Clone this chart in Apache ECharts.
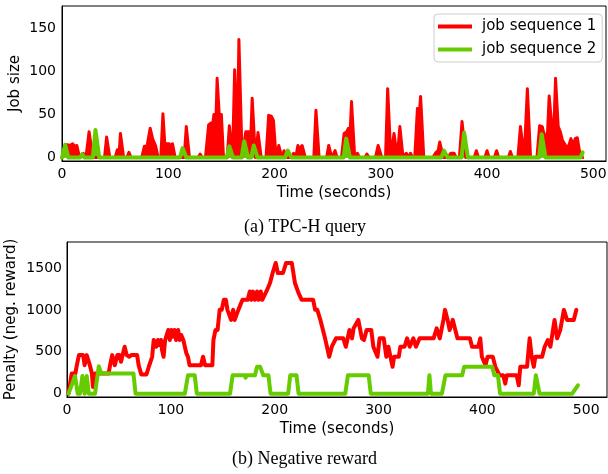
<!DOCTYPE html>
<html lang="en">
<head>
<meta charset="utf-8">
<script src="https://cdn.jsdelivr.net/npm/echarts@6/dist/echarts.min.js"></script>
<style>
  html, body { margin: 0; padding: 0; background: #fff; }
  #chartMain { width: 608px; height: 474px; }
</style>
</head>
<body>
<div id="chartMain"></div>

<script>
    // tick labels
    var jobTimeTicks = [0, 100, 200, 300, 400, 500];
    var jobTicks = [0, 50, 100, 150];
    var penaltyTimeTicks = [0, 100, 200, 300, 400, 500];
    var penaltyTicks = [0, 500, 1000, 1500];
    var seriesNames = ['job sequence 1', 'job sequence 2'];

    // (a) job size per second, [time, size]
    var jobSeq1 = [
        [0,0],[1,0],[3,14],[5,15],[8,14],[10,16],[12,13],[14,14],[16.5,0],
        [17.5,0],[20,5],[22.5,0],[23,0],[25.5,30],[26.5,30],[29,0],
        [40,0],[42,24],[43,24],[45,0],[50,0],[52,9],[54,9],[55,28],[56,28],[58,0],
        [61,0],[63,6],[65,0],
        [75,0],[77.5,13],[80,13],[83,34],[84,34],[85.5,21],[87,20],[88,14],[90.5,0],
        [93,0],[95,51],[96,51],[97.5,0],[98.5,16],[101,16],[102,13],[104,16],[106.5,0],
        [115,0],[117,36],[118,36],[120,0],[128,0],[130,4],[132,0],
        [135,0],[138,38],[140,40],[142,40],[143,50],[145,50],[146,92],[147,92],[148,50],[150,50],[152,0],
        [155.5,0],[157.5,37],[158.5,37],[160.5,0],[161,0],[162.5,102],[164,102],[165,20],[166.5,137],[167.5,137],[169.5,0],
        [171,0],[173,30],[176,30],[177,0],[177.5,0],[179,69],[180,69],[182,0],[183,0],[184.5,29],[185.5,29],[187.5,0],
        [192,0],[194.5,49],[197,48],[199,43],[201.5,0],[202,0],[204,14],[205,14],[207,0],[207.5,0],[209,8],[211,0],
        [216,0],[218,5],[220,0],[220.5,0],[222,14],[223,10],[226,14],[227,14],[229,0],
        [237,0],[239,55],[240,55],[242,0],[249,0],[251,14],[252,14],[254,0],[255,0],[257,8],[259,0],
        [263,0],[265.5,28],[268,30],[269.5,34],[271,25],[272.5,65],[273.5,65],[275.5,0],
        [276,0],[278,5],[280,0],[285,0],[287,4],[289,0],[295,0],[297.5,14],[298.5,14],[301,0],
        [304.5,0],[306.5,80],[307.5,80],[309.5,0],[310.5,0],[312.5,28],[313.5,28],[315.5,0],[316,0],[318,36],[319,36],[321,0],
        [322,0],[324,5],[326,0],[326.5,0],[328,5],[330,0],
        [332,0],[334.5,57],[336.5,55],[337.5,71],[338.5,71],[340.5,0],
        [349,0],[352,6],[354,8],[355.5,18],[356.5,18],[359,0],[363,0],[366,5],[369,5],[371,0],
        [374,0],[376.5,42],[377.5,42],[380,0],[388,0],[390,8],[392,0],[398,0],[400,8],[402,0],
        [407,0],[409,8],[411,0],[420,0],[422,7],[424,0],
        [429,0],[431.5,36],[432.5,36],[435,0],[436,0],[438,80],[439,80],[441,0],
        [447,0],[449.5,37],[452,36],[455,20],[457,30],[458.5,71.5],[459.5,71.5],[461,36],[463,36],[464.5,92],[465.5,92],
        [467,36],[469,30],[471,20],[473,16],[475,12],[477,14],[479,22],[481,14],[483,22],
        [485,23],[487,8],[488,8],[490,0]
    ];
    var jobSeq2 = [
        [0,0],[1,0],[3,15],[4,15],[6,0],[17,0],[19,4],[21,0],[29,0],[31.5,32],[32.5,32],[35,0],
        [111,0],[113.5,11],[114.5,11],[117,0],[155,0],[157.5,13],[158.5,13],[161,0],
        [169,0],[171.5,19],[172.5,19],[175,0],[178,0],[180.5,14],[181.5,14],[184,0],
        [210,0],[212.5,8],[213.5,8],[216,0],[265,0],[267.5,22],[268.5,22],[271,0],
        [357,0],[359.5,8],[360.5,8],[363,0],[376,0],[378.5,29],[379.5,29],[382,0],
        [449,0],[451.5,27],[452.5,27],[455,0],[488,0],[490,6]
    ];

    // (b) penalty, [time, penalty]
    var penaltySeq1 = [
        [1.5,0],[4.5,240],[8,240],[9.5,340],[11.5,460],[15.5,460],[17,340],[19,460],[20.5,460],
        [22,340],[24,240],[25,80],[27,240],[40,240],[41.5,340],[43.5,460],[46,340],[48.5,460],
        [50.5,460],[52,380],[55.5,560],[57.5,460],[60,440],[62,460],[67.5,460],[69,340],
        [71.5,230],[76.5,230],[79,330],[82,440],[83.5,640],[85,640],[86,560],[87.5,640],
        [89,580],[90.5,640],[91.5,520],[93,440],[94.5,640],[97.5,760],[99,640],[100.5,760],
        [102,680],[103.5,760],[105,640],[107,760],[108.5,640],[110,700],[112,640],[113.5,560],
        [115,480],[116.5,440],[118,340],[129,340],[131,440],[133,340],[140,340],[141,640],
        [143,760],[145,760],[147,1000],[149,1000],[151,1120],[153,1120],[154.5,1000],[156,1000],
        [158,880],[160,1000],[161.5,880],[163,880],[165,1000],[166.5,1000],[169,1120],[174,1120],
        [176,1220],[177.5,1120],[179,1220],[181,1120],[183,1220],[184.5,1120],[186.5,1220],
        [188,1120],[190,1170],[192,1220],[195.5,1320],[198,1440],[201,1560],[203,1440],
        [208,1440],[211,1560],[216.5,1560],[218,1440],[219.5,1320],[221,1320],[223,1200],
        [226,1120],[237,1120],[239,1000],[241,1000],[244,880],[248.5,660],[252.5,440],
        [255,560],[256.5,540],[259,660],[266,660],[268.5,560],[272,760],[274.5,660],[276,780],
        [280.5,880],[284,660],[286,640],[288.5,760],[293,760],[295,560],[299,440],[301,660],
        [305,660],[307.5,440],[309.5,560],[311.5,440],[313.5,320],[315,440],[319.5,440],
        [321,560],[325,560],[327.5,660],[330,560],[333.5,660],[336,560],[339.5,660],[353,660],
        [356,780],[359,660],[362.5,880],[364,1000],[366.5,880],[368.5,760],[371.5,880],
        [373.5,780],[376,660],[388,660],[390,560],[396,560],[398,660],[399.5,440],[403,340],
        [405,440],[410,440],[412.5,320],[416.5,220],[420,220],[422,120],[423.5,220],[433,220],
        [435,100],[436.5,320],[443,320],[445.5,660],[447.5,440],[449.5,320],[451,440],
        [457.5,440],[460,560],[463,640],[465.5,560],[469.5,880],[472,660],[475,760],[476.5,760],
        [478.5,1000],[481.5,880],[488,880],[490.5,1000]
    ];
    var penaltySeq2 = [
        [1.5,0],[7.7,210],[10.3,0],[12.5,0],[14.8,210],[17,0],[19,210],[21,0],[27,0],
        [30.6,327],[32,327],[33,240],[64,240],[66,0],[113.5,0],[116.5,220],[123,220],[125,0],
        [157,0],[159.5,220],[171,220],[172,190],[173,220],[181,220],[183,320],[186,320],
        [189,220],[194,220],[196,0],[213,0],[215,220],[221,220],[223,0],[268,0],[270.5,220],
        [290.5,220],[292.5,0],[347.5,0],[349,220],[350.5,0],[361,0],[364.5,220],[380.5,220],
        [382.5,320],[409.5,320],[411.5,220],[415,220],[417,0],[449.5,0],[451.5,220],[455,0],
        [486.5,0],[492,100]
    ];

    var RED = '#ff0000';
    var GREEN = '#66cc00';
    var sans = 'DejaVu Sans';
    var serif = 'Liberation Serif';

    function plain(v) { return String(v); }

    function xAxisFor(gridIndex, max, ticks) {
        return {
            type: 'value', gridIndex: gridIndex, min: 0, max: max,
            name: 'Time (seconds)', nameLocation: 'middle', nameGap: 25,
            nameTextStyle: { fontFamily: sans, fontSize: 15, color: '#000' },
            axisLine: { onZero: false, lineStyle: { color: '#000', width: 1 } },
            axisTick: { show: false },
            splitLine: { show: false },
            axisLabel: { customValues: ticks, formatter: plain, fontFamily: sans, fontSize: 14, color: '#000', margin: 6 }
        };
    }

    var myChart = echarts.init(document.getElementById('chartMain'));

    myChart.setOption({
        animation: false,
        backgroundColor: '#fff',
        title: [
            { text: '(a) TPC-H query', left: 244, top: 218, padding: 0,
              textStyle: { fontFamily: serif, fontSize: 18, fontWeight: 'normal', color: '#000' } },
            { text: '(b) Negative reward', left: 232, top: 450, padding: 0,
              textStyle: { fontFamily: serif, fontSize: 18, fontWeight: 'normal', color: '#000' } }
        ],
        legend: {
            data: seriesNames,
            orient: 'vertical',
            left: 434, top: 14,
            icon: 'rect', itemWidth: 34, itemHeight: 4, itemGap: 8,
            padding: [5, 6, 5, 4],
            borderColor: '#ccc', borderWidth: 1, borderRadius: 4,
            backgroundColor: '#fff',
            textStyle: { fontFamily: sans, fontSize: 15, color: '#000', padding: [0, 0, 0, 5] }
        },
        grid: [
            { left: 62, top: 6, width: 544, height: 155, outerBoundsMode: 'none',
              show: true, borderColor: '#000', borderWidth: 1 },
            { left: 67, top: 242, width: 540, height: 155, outerBoundsMode: 'none',
              show: true, borderColor: '#000', borderWidth: 1 }
        ],
        xAxis: [
            xAxisFor(0, 512, jobTimeTicks),
            xAxisFor(1, 520, penaltyTimeTicks)
        ],
        yAxis: [
            {
                type: 'value', gridIndex: 0, min: -4, max: 176,
                name: 'Job size', nameLocation: 'middle', nameGap: 39, nameMoveOverlap: false,
                nameTextStyle: { fontFamily: sans, fontSize: 15, color: '#000' },
                axisLine: { show: true, lineStyle: { color: '#000', width: 1 } },
                axisTick: { show: false },
                splitLine: { show: false },
                axisLabel: { customValues: jobTicks, formatter: plain, fontFamily: sans, fontSize: 14, color: '#000', margin: 6 }
            },
            {
                type: 'value', gridIndex: 1, min: -40, max: 1810,
                name: 'Penalty (neg. reward)', nameLocation: 'middle', nameGap: 48, nameMoveOverlap: false,
                nameTextStyle: { fontFamily: sans, fontSize: 15, color: '#000' },
                axisLine: { show: true, lineStyle: { color: '#000', width: 1 } },
                axisTick: { show: false },
                splitLine: { show: false },
                axisLabel: { customValues: penaltyTicks, formatter: plain, fontFamily: sans, fontSize: 14, color: '#000', margin: 5 }
            }
        ],
        series: [
            { name: seriesNames[0], type: 'line', xAxisIndex: 0, yAxisIndex: 0, data: jobSeq1,
              symbol: 'none', itemStyle: { color: RED },
              areaStyle: { color: RED, opacity: 1, origin: 0 },
              lineStyle: { color: RED, width: 3, join: 'round', cap: 'round' } },
            { name: seriesNames[1], type: 'line', xAxisIndex: 0, yAxisIndex: 0, data: jobSeq2,
              symbol: 'none', itemStyle: { color: GREEN },
              areaStyle: { color: GREEN, opacity: 1, origin: 0 },
              lineStyle: { color: GREEN, width: 4, join: 'round', cap: 'round' } },
            { name: seriesNames[0], type: 'line', xAxisIndex: 1, yAxisIndex: 1, data: penaltySeq1,
              symbol: 'none', itemStyle: { color: RED },
              lineStyle: { color: RED, width: 4, join: 'round', cap: 'round' } },
            { name: seriesNames[1], type: 'line', xAxisIndex: 1, yAxisIndex: 1, data: penaltySeq2,
              symbol: 'none', itemStyle: { color: GREEN },
              lineStyle: { color: GREEN, width: 4, join: 'round', cap: 'round' } }
        ]
    });
</script>
</body>
</html>
